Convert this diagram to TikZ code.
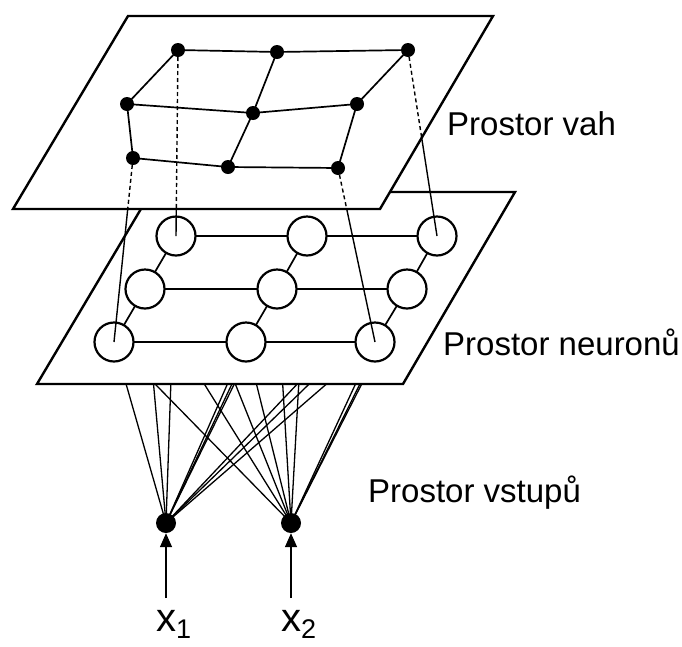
\documentclass[tikz,border=0pt]{standalone}
\usepackage{fontspec}
\setmainfont{Liberation Sans}
\usetikzlibrary{arrows.meta}
\begin{document}
\begin{tikzpicture}[x=1pt,y=-1pt,
  plane/.style={draw,fill=white,line width=2.4pt,line join=miter},
  neuron/.style={circle,draw,fill=white,line width=2.2pt,minimum size=39pt,inner sep=0pt},
  wdot/.style={circle,fill=black,minimum size=14pt,inner sep=0pt},
  indot/.style={circle,fill=black,minimum size=20pt,inner sep=0pt},
  link/.style={line width=1.7pt},
  feed/.style={line width=1.3pt},
  proj/.style={line width=1.4pt},
  projh/.style={line width=1.4pt,dash pattern=on 4pt off 3pt},
  lbl/.style={font=\fontsize{33}{33}\selectfont,anchor=base west,inner sep=0pt},
  inarrow/.style={line width=1.5pt,-{Triangle[length=14pt,width=12pt]}}
]
\useasboundingbox (0,0) rectangle (682,646);

% neuron centres
\coordinate (c11) at (176,236);
\coordinate (c12) at (307,236);
\coordinate (c13) at (437,236);
\coordinate (c21) at (145,289);
\coordinate (c22) at (277,289);
\coordinate (c23) at (407,289);
\coordinate (c31) at (114,342);
\coordinate (c32) at (246,342);
\coordinate (c33) at (375,342);

% weight positions
\coordinate (pa1) at (178,50);
\coordinate (pa2) at (277,52);
\coordinate (pa3) at (408,50);
\coordinate (pb1) at (127,104);
\coordinate (pb2) at (253,113);
\coordinate (pb3) at (357,104);
\coordinate (pc1) at (133,158);
\coordinate (pc2) at (228,167);
\coordinate (pc3) at (338,168);

% inputs
\node[indot] (i1) at (166,523) {};
\node[indot] (i2) at (291,523) {};

\foreach \n in {c11,c12,c13,c21,c22,c23,c31,c32,c33}{
  \draw[feed] (i1.center) -- (\n);
  \draw[feed] (i2.center) -- (\n);
}

% neuron plane
\draw[plane] (37,384) -- (403,384) -- (515,192) -- (151,192) -- cycle;

% neuron lattice
\draw[link] (c11) -- (c12) -- (c13);
\draw[link] (c21) -- (c22) -- (c23);
\draw[link] (c31) -- (c32) -- (c33);
\draw[link] (c11) -- (c21) -- (c31);
\draw[link] (c12) -- (c22) -- (c32);
\draw[link] (c13) -- (c23) -- (c33);

\foreach \n/\c in {n11/c11,n12/c12,n13/c13,n21/c21,n22/c22,n23/c23,n31/c31,n32/c32,n33/c33}{
  \node[neuron] (\n) at (\c) {};
}

% projection lines (solid part, below the weight plane)
\draw[proj] (pa1) -- (n11.center);
\draw[proj] (pc1) -- (n31.center);
\draw[proj] (pc3) -- (n33.center);
\draw[proj] (pa3) -- (n13.center);

% weight plane
\draw[plane] (13,209) -- (380,209) -- (493,16) -- (128,16) -- cycle;

% hidden parts of the projection lines
\begin{scope}
  \clip (13,209) -- (380,209) -- (493,16) -- (128,16) -- cycle;
  \draw[projh] (pa1) -- (n11.center);
  \draw[projh] (pc1) -- (n31.center);
  \draw[projh] (pc3) -- (n33.center);
  \draw[projh] (pa3) -- (n13.center);
\end{scope}

% weight lattice
\draw[link] (pa1) -- (pa2) -- (pa3);
\draw[link] (pb1) -- (pb2) -- (pb3);
\draw[link] (pc1) -- (pc2) -- (pc3);
\draw[link] (pa1) -- (pb1) -- (pc1);
\draw[link] (pa2) -- (pb2) -- (pc2);
\draw[link] (pa3) -- (pb3) -- (pc3);
\foreach \n/\c in {wa1/pa1,wa2/pa2,wa3/pa3,wb1/pb1,wb2/pb2,wb3/pb3,wc1/pc1,wc2/pc2,wc3/pc3}{
  \node[wdot] (\n) at (\c) {};
}

% input arrows and labels
\coordinate (s1) at (166,598);
\coordinate (s2) at (291,598);
\draw[inarrow] (s1) -- (i1.south);
\draw[inarrow] (s2) -- (i2.south);
\node[anchor=base west,inner sep=0pt] (l1) at (156,631)
  {{\fontsize{40}{40}\selectfont x}\raisebox{-7pt}{\fontsize{27}{27}\selectfont 1}};
\node[anchor=base west,inner sep=0pt] (l2) at (281,631)
  {{\fontsize{40}{40}\selectfont x}\raisebox{-7pt}{\fontsize{27}{27}\selectfont 2}};

% texts
\node[lbl] (t1) at (447,135) {Prostor vah};
\node[lbl] (t2) at (443,355) {Prostor neuronů};
\node[lbl] (t3) at (368,502) {Prostor vstupů};
\end{tikzpicture}
\end{document}
